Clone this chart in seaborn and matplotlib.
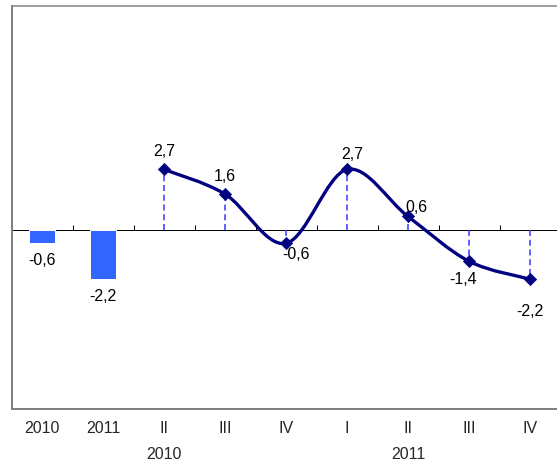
import numpy as np
import pandas as pd
import matplotlib
matplotlib.use("Agg")
import matplotlib.pyplot as plt
from matplotlib.path import Path
from matplotlib.patches import PathPatch
import seaborn as sns

# Annual values (bars) and quarterly values (line)
categories = ["2010", "2011", "II\n2010", "III", "IV", "I", "II\n2011", "III", "IV"]
annual_labels = ["2010", "2011"]
annual_values = [-0.6, -2.2]
quarter_positions = [2, 3, 4, 5, 6, 7, 8]
quarter_values = [2.7, 1.6, -0.6, 2.7, 0.6, -1.4, -2.2]

# Label offsets (pixels) for the quarterly point annotations
label_offsets = [(0, 18), (0, 18), (10, -11), (5, 15), (8, 9), (-6, -18), (0, -32)]

sns.set_style("white")
plt.rcParams["font.family"] = ["Liberation Sans", "DejaVu Sans"]

DPI = 72
fig = plt.figure(figsize=(557 / DPI, 469 / DPI), dpi=DPI)
ax = fig.add_axes([11.5 / 557, (469 - 409) / 469, 549 / 557, (409 - 6) / 469])

bar_color = "#3366FF"
line_color = "#000080"
dash_color = "#3333FF"
fs = 16

df_bars = pd.DataFrame({"cat": annual_labels, "val": annual_values})
sns.barplot(data=df_bars, x="cat", y="val", color=bar_color, width=0.41,
            saturation=1, ax=ax, zorder=2)

# zero line with category boundary ticks
ax.axhline(0, color="black", lw=1.0, zorder=1)
ax.vlines(np.arange(0.5, 8.5, 1.0), 0, 0.22, color="black", lw=1.0, zorder=1)

# dashed drop lines from zero to each quarterly point
ax.vlines(quarter_positions, 0, quarter_values, colors=dash_color,
          linestyles=(0, (4, 2.5)), lw=1.5, zorder=2)

# smoothed curve through the quarterly points (cubic Bezier segments)
xs = np.array(quarter_positions, dtype=float)
ys = np.array(quarter_values, dtype=float)
pts = np.column_stack([xs, ys])
ext = np.vstack([pts[0], pts, pts[-1]])
verts = [tuple(pts[0])]
codes = [Path.MOVETO]
for i in range(len(pts) - 1):
    p0, p1, p2, p3 = ext[i], ext[i + 1], ext[i + 2], ext[i + 3]
    c1 = p1 + (p2 - p0) / 6.0
    c2 = p2 - (p3 - p1) / 6.0
    verts += [tuple(c1), tuple(c2), tuple(p2)]
    codes += [Path.CURVE4] * 3
curve = PathPatch(Path(verts, codes), facecolor="none", edgecolor=line_color,
                  lw=3.3, zorder=3, capstyle="round", joinstyle="round")
ax.add_patch(curve)

sns.scatterplot(x=quarter_positions, y=quarter_values, marker="D", s=75,
                color=line_color, edgecolor=line_color, ax=ax, zorder=4)


def fmt(v):
    return f"{v:.1f}".replace(".", ",")


for xi, v in enumerate(annual_values):
    ax.annotate(fmt(v), (xi, v), xytext=(0, -17), textcoords="offset points",
                ha="center", va="center", fontsize=fs, color="black")

for xp, v, off in zip(quarter_positions, quarter_values, label_offsets):
    ax.annotate(fmt(v), (xp, v), xytext=off, textcoords="offset points",
                ha="center", va="center", fontsize=fs, color="black", zorder=5)

ax.set_xlim(-0.5, 8.5)
ax.set_ylim(-8, 10)
ax.set_xticks(range(len(categories)))
ax.set_xticklabels(categories, fontsize=fs, linespacing=1.95, va="top")
ax.tick_params(axis="x", length=0, pad=12)
ax.set_yticks([])
ax.set_xlabel("")
ax.set_ylabel("")

for side in ["left", "top", "bottom", "right"]:
    ax.spines[side].set_visible(True)
    ax.spines[side].set_color("#808080")
ax.spines["left"].set_linewidth(2.0)
ax.spines["bottom"].set_linewidth(2.0)
ax.spines["top"].set_linewidth(1.5)
ax.spines["right"].set_linewidth(1.5)

fig.savefig("out.png", dpi=DPI)
